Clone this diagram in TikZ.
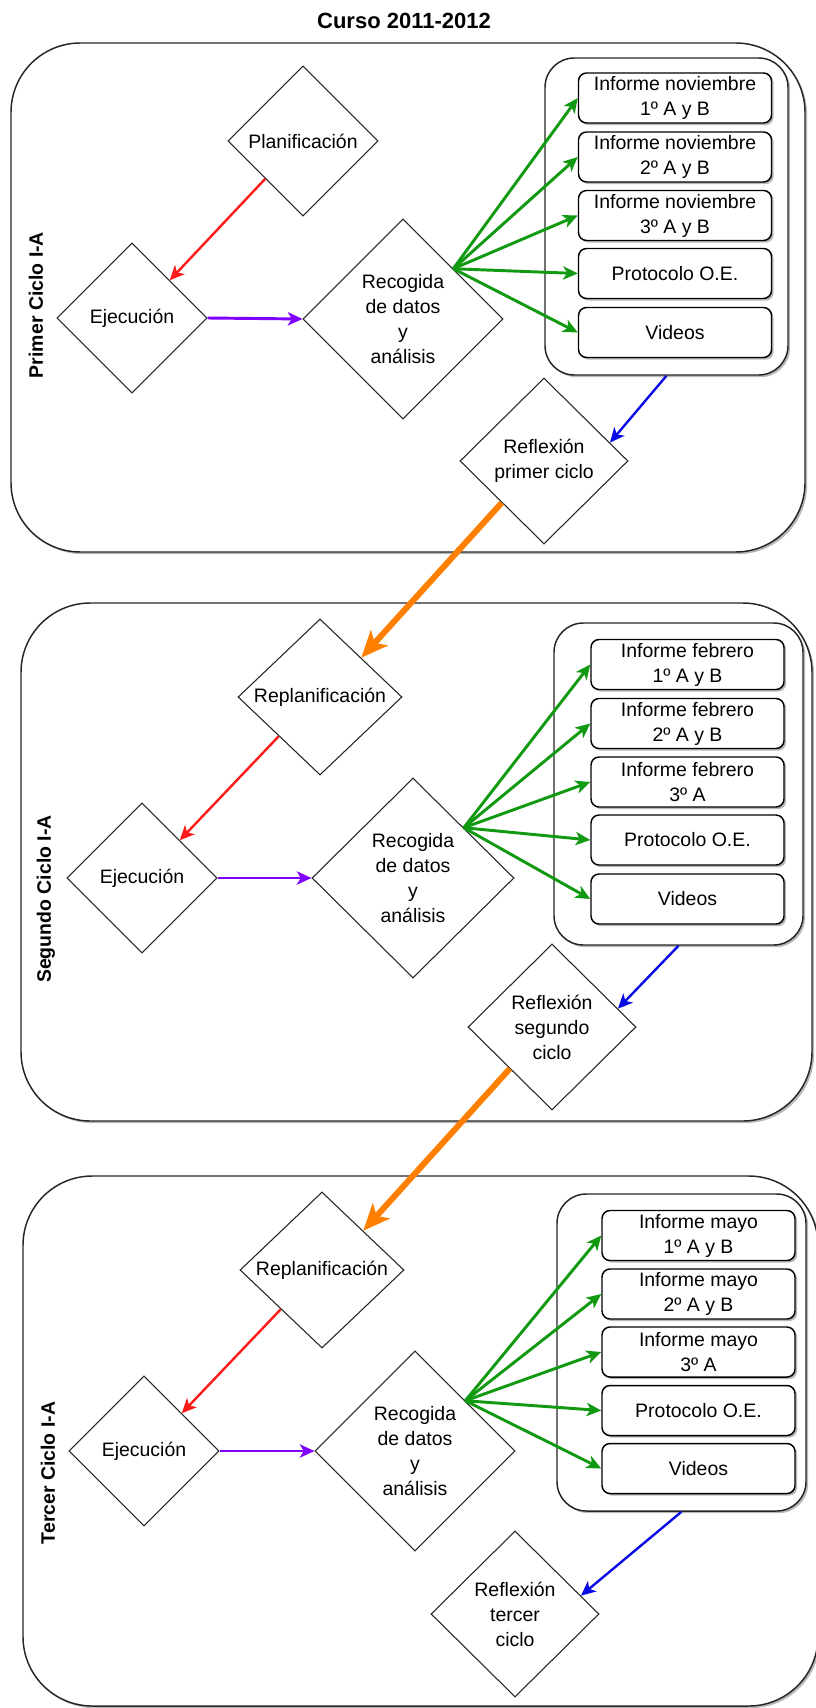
\documentclass[tikz,border=0pt]{standalone}
\usepackage{fontspec}
\setmainfont{Liberation Sans}
\usetikzlibrary{arrows.meta,shapes.geometric,calc,shadows}

\definecolor{cred}{HTML}{FF1A1A}
\definecolor{cpurple}{HTML}{8000FF}
\definecolor{cgreen}{HTML}{129912}
\definecolor{cblue}{HTML}{0A0AE6}
\definecolor{corange}{HTML}{FF8000}
\definecolor{cline}{HTML}{262626}

\begin{document}
\begin{tikzpicture}[x=0.75pt,y=-0.75pt,
  txt/.style={font=\fontsize{14.6}{18.75}\selectfont, align=center},
  lab/.style={font=\bfseries\fontsize{14.6}{18}\selectfont, rotate=90},
  shad/.style={drop shadow={shadow xshift=1.6pt, shadow yshift=-1.6pt, fill=black, opacity=0.28}},
  dia/.style 2 args={diamond, draw=cline, line width=0.8pt, fill=white, inner sep=0pt,
     minimum width=#1*0.75pt, minimum height=#2*0.75pt, txt},
  panel/.style 2 args={draw=cline, line width=1.1pt, rounded corners=52pt, fill=white, shad,
     minimum width=#1*0.75pt, minimum height=#2*0.75pt, inner sep=0pt},
  cont/.style 2 args={draw=cline, line width=1.1pt, rounded corners=22pt, fill=white, shad,
     minimum width=#1*0.75pt, minimum height=#2*0.75pt, inner sep=0pt},
  boxn/.style={draw=black, line width=1.1pt, rounded corners=6pt, fill=white, shad,
     minimum width=193*0.75pt, minimum height=50*0.75pt, inner sep=0pt, txt},
  arr/.style={-{Stealth[length=11pt, width=10pt, inset=3pt]}, line width=1.8pt},
  redarr/.style={arr, draw=cred, fill=cred},
  purarr/.style={arr, draw=cpurple, fill=cpurple, line width=2.2pt},
  grnarr/.style={arr, draw=cgreen, fill=cgreen, line width=2.2pt},
  bluarr/.style={arr, draw=cblue, fill=cblue},
  orarr/.style={-{Stealth[length=20pt, width=17pt, inset=5pt]}, draw=corange, fill=corange, line width=4.5pt}
]
\useasboundingbox (0,0) rectangle (816,1708);

\node[font=\bfseries\fontsize{16.5}{20}\selectfont] (title) at (404,20.5) {Curso 2011-2012};

% ---------- panel 1 ----------
\node[panel={794}{509}] (p1) at (408,297.5) {};
\node[lab] (l1) at (36,305) {Primer Ciclo I-A};
\node[cont={243}{317}] (c1) at (666.5,216.5) {};
\node[boxn] (b11) at (675,98) {Informe noviembre\\1º A y B};
\node[boxn] (b12) at (675,157) {Informe noviembre\\2º A y B};
\node[boxn] (b13) at (675,215.5) {Informe noviembre\\3º A y B};
\node[boxn] (b14) at (675,273.5) {Protocolo O.E.};
\node[boxn] (b15) at (675,332.5) {Videos};
\node[dia={150}{150}] (plan1) at (303,141) {Planificación};
\node[dia={150}{150}] (ejec1) at (132,318) {Ejecución};
\node[dia={200}{200}] (rec1) at (403,319) {Recogida\\de datos\\y\\análisis};
\node[dia={168}{166}] (refl1) at (544,461) {Reflexión\\primer ciclo};

% ---------- panel 2 ----------
\node[panel={791}{518}] (p2) at (416.5,862) {};
\node[lab] (l2) at (46,899) {Segundo Ciclo I-A};
\node[cont={249}{322}] (c2) at (678.5,784) {};
\node[boxn] (b21) at (687.5,664.5) {Informe febrero\\1º A y B};
\node[boxn] (b22) at (687.5,723.5) {Informe febrero\\2º A y B};
\node[boxn] (b23) at (687.5,782) {Informe febrero\\3º A};
\node[boxn] (b24) at (687.5,840) {Protocolo O.E.};
\node[boxn] (b25) at (687.5,899) {Videos};
\node[dia={164}{156}] (plan2) at (320,697) {Replanificación};
\node[dia={150}{150}] (ejec2) at (142,878) {Ejecución};
\node[dia={202}{200}] (rec2) at (413,878) {Recogida\\de datos\\y\\análisis};
\node[dia={168}{166}] (refl2) at (552,1027) {Reflexión\\segundo\\ciclo};

% ---------- panel 3 ----------
\node[panel={795}{530}] (p3) at (420.5,1441) {};
\node[lab] (l3) at (48,1473) {Tercer Ciclo I-A};
\node[cont={249}{317}] (c3) at (681.5,1352.5) {};
\node[boxn] (b31) at (698.5,1235.5) {Informe mayo\\1º A y B};
\node[boxn] (b32) at (698.5,1294) {Informe mayo\\2º A y B};
\node[boxn] (b33) at (698.5,1352) {Informe mayo\\3º A};
\node[boxn] (b34) at (698.5,1410.5) {Protocolo O.E.};
\node[boxn] (b35) at (698.5,1468.5) {Videos};
\node[dia={164}{156}] (plan3) at (322,1270) {Replanificación};
\node[dia={150}{150}] (ejec3) at (144,1451) {Ejecución};
\node[dia={200}{200}] (rec3) at (415,1451) {Recogida\\de datos\\y\\análisis};
\node[dia={168}{166}] (refl3) at (515,1614) {Reflexión\\tercer\\ciclo};

% ---------- connectors ----------
\foreach \i in {1,2,3}{
  \draw[redarr] ($(plan\i.south)!0.5!(plan\i.west)$) -- ($(ejec\i.north)!0.5!(ejec\i.east)$);
  \draw[purarr] (ejec\i.east) -- (rec\i.west);
  \foreach \j in {1,...,5}{
    \draw[grnarr] ($(rec\i.north)!0.5!(rec\i.east)$) -- (b\i\j.west);
  }
  \draw[bluarr] (c\i.south) -- ($(refl\i.north)!0.78!(refl\i.east)$);
}
\draw[orarr] ($(refl1.south)!0.5!(refl1.west)$) -- ($(plan2.north)!0.5!(plan2.east)$);
\draw[orarr] ($(refl2.south)!0.5!(refl2.west)$) -- ($(plan3.north)!0.5!(plan3.east)$);
\end{tikzpicture}
\end{document}
